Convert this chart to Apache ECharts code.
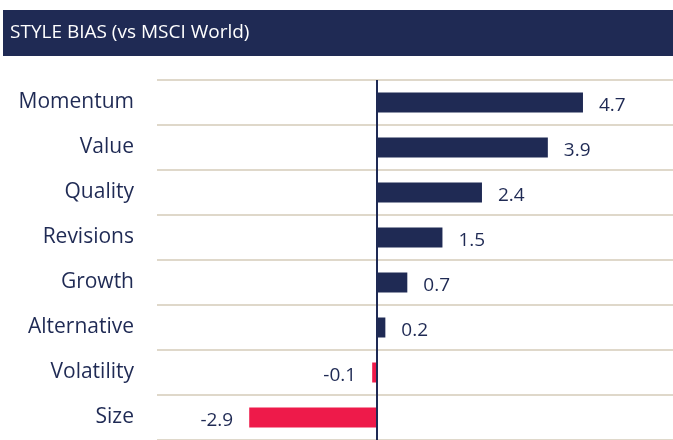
<!DOCTYPE html>
<html>
<head>
<meta charset="utf-8">
<script src="https://cdn.jsdelivr.net/npm/echarts@6/dist/echarts.min.js"></script>
<style>
  html, body { margin: 0; padding: 0; background: #fff; }
  #chart { width: 673px; height: 440px; }
</style>
</head>
<body>
<div id="chart"></div>
<script>
var categories = ['Momentum', 'Value', 'Quality', 'Revisions', 'Growth', 'Alternative', 'Volatility', 'Size'];
var values = [4.7, 3.9, 2.4, 1.5, 0.7, 0.2, -0.1, -2.9];

var navy = '#1f2a54';
var red = '#ee1a4a';
var font = '"Open Sans", sans-serif';

var myChart = echarts.init(document.getElementById('chart'));

var barData = values.map(function (v) {
  return {
    value: v,
    itemStyle: { color: v < 0 ? red : navy },
    label: { position: v < 0 ? 'left' : 'right' }
  };
});

var option = {
  animation: false,
  graphic: [
    {
      type: 'rect',
      shape: { x: 3, y: 10, width: 670, height: 46 },
      style: { fill: navy }
    },
    {
      type: 'text',
      x: 10,
      y: 33,
      style: {
        text: 'STYLE BIAS (vs MSCI World)',
        fill: '#fff',
        font: '19px ' + font,
        verticalAlign: 'middle'
      }
    }
  ],
  grid: {
    left: 157,
    top: 80,
    right: 0,
    height: 366
  },
  xAxis: {
    type: 'value',
    min: -5,
    max: 6.75,
    show: false
  },
  yAxis: {
    type: 'category',
    inverse: true,
    data: categories,
    axisLine: { show: false, onZero: false },
    axisTick: { show: false },
    axisLabel: {
      color: navy,
      fontSize: 21,
      fontFamily: font,
      margin: 23
    },
    splitLine: {
      show: true,
      lineStyle: { color: '#d4cbb8', width: 1.5 }
    }
  },
  series: [
    {
      type: 'bar',
      barWidth: 20,
      data: barData,
      label: {
        show: true,
        distance: 16,
        offset: [0, 3],
        color: navy,
        fontSize: 19,
        fontFamily: font,
        formatter: function (p) { return p.value.toFixed(1); }
      },
      markLine: {
        silent: true,
        symbol: ['none', 'none'],
        label: { show: false },
        lineStyle: { color: navy, width: 2, type: 'solid' },
        data: [{ xAxis: 0 }]
      }
    }
  ]
};

myChart.setOption(option);
</script>
</body>
</html>
